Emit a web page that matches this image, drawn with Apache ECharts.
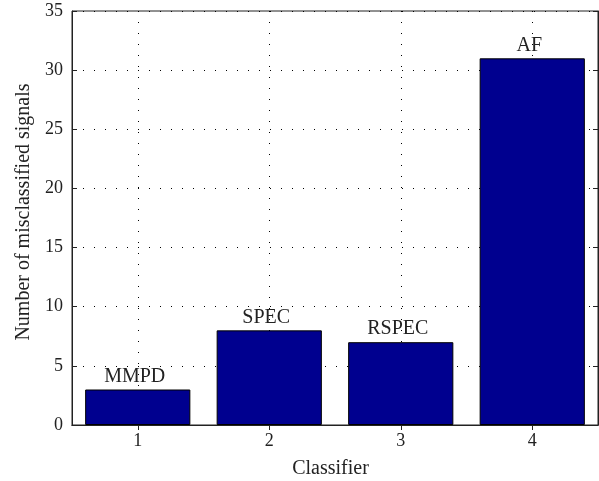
<!DOCTYPE html>
<html>
<head>
<meta charset="utf-8">
<script src="https://cdn.jsdelivr.net/npm/echarts@6/dist/echarts.min.js"></script>
<style>html,body{margin:0;padding:0;background:#fff;}#c{width:599px;height:481px;}</style>
</head>
<body>
<div id="c"></div>
<script>
var categories = [1, 2, 3, 4];
var values = [3, 8, 7, 31];
var barLabels = ['MMPD', 'SPEC', 'RSPEC', 'AF'];
var yTicks = [0, 5, 10, 15, 20, 25, 30, 35];

var FONT = '"Liberation Serif", "Times New Roman", serif';
var TXT = '#222';
var chart = echarts.init(document.getElementById('c'));
var dotted = { color: '#000', width: 1, type: [1, 10] };

chart.setOption({
  animation: false,
  textStyle: { fontFamily: FONT },
  grid: { left: 72, right: 1, top: 11, bottom: 56, outerBoundsMode: 'none', containLabel: false, show: true, borderColor: '#222', borderWidth: 1, backgroundColor: 'transparent' },
  xAxis: [{
    type: 'value', min: 0.5, max: 4.5,
    name: 'Classifier', nameLocation: 'middle', nameGap: 34,
    nameTextStyle: { fontFamily: FONT, fontSize: 20, color: TXT, padding: [0, 9, 0, 0] },
    axisLine: { show: true, lineStyle: { color: '#222' } },
    axisTick: { show: true, inside: true, length: 5, lineStyle: { color: '#222' }, customValues: categories },
    axisLabel: { fontFamily: FONT, fontSize: 18, color: TXT, margin: 7, customValues: categories },
    splitLine: { show: true, lineStyle: dotted }
  }, {
    type: 'value', position: 'top', min: 0.5, max: 4.5,
    axisLine: { show: true, lineStyle: { color: '#222' } },
    axisTick: { show: true, inside: true, length: 5, lineStyle: { color: '#222' }, customValues: categories },
    axisLabel: { show: false }, splitLine: { show: false }
  }],
  yAxis: [{
    type: 'value', min: yTicks[0], max: yTicks[yTicks.length - 1], interval: 5,
    name: 'Number of misclassified signals', nameLocation: 'middle', nameGap: 38,
    nameTextStyle: { fontFamily: FONT, fontSize: 20, color: TXT, padding: [0, 0, 0, 12] },
    axisLine: { show: true, lineStyle: { color: '#222' } },
    axisTick: { show: true, inside: true, length: 5, lineStyle: { color: '#222' } },
    axisLabel: { fontFamily: FONT, fontSize: 18, color: TXT, margin: 9 },
    splitLine: { show: true, lineStyle: dotted }
  }, {
    type: 'value', position: 'right', min: yTicks[0], max: yTicks[yTicks.length - 1], interval: 5,
    axisLine: { show: true, lineStyle: { color: '#222' } },
    axisTick: { show: true, inside: true, length: 5, lineStyle: { color: '#222' } },
    axisLabel: { show: false }, splitLine: { show: false }
  }],
  series: [{
    type: 'bar',
    xAxisIndex: 0, yAxisIndex: 0,
    barWidth: '80%',
    data: categories.map(function (c, i) { return [c, values[i]]; }),
    itemStyle: { color: '#00008F', borderColor: '#000', borderWidth: 1 },
    label: {
      show: true, position: 'top', distance: 3, offset: [-3, 0],
      fontFamily: FONT, fontSize: 20, color: TXT,
      formatter: function (p) { return barLabels[p.dataIndex]; }
    }
  }]
});
</script>
</body>
</html>
